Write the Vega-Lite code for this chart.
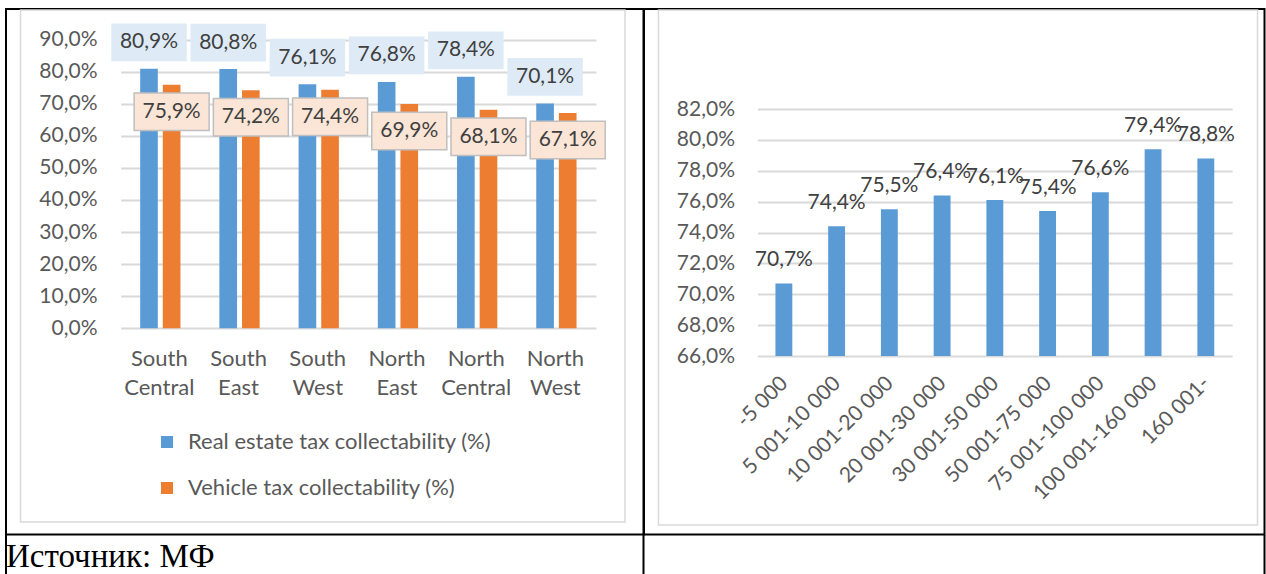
{
  "$schema": "https://vega.github.io/schema/vega-lite/v6.json",
  "padding": {"left": 5, "top": 8, "right": 0, "bottom": 0},
  "background": "white",
  "columns": 2,
  "spacing": 0,
  "bounds": "flush",
  "config": {
    "font": "Lato",
    "locale": {"number": {"decimal": ",", "thousands": " ", "grouping": [3], "currency": ["", ""]}},
    "axis": {"labelFont": "Lato", "labelFontSize": 21, "labelColor": "#595959", "domain": false, "ticks": false, "tickSize": 0, "title": null, "gridColor": "#D9D9D9", "gridWidth": 2},
    "text": {"font": "Lato"}
  },
  "concat": [
    {
      "width": 637.5,
      "height": 525.5,
      "view": {"stroke": "black", "strokeWidth": 2},
      "layer": [
        {
          "data": {"values": [{}]},
          "mark": {"type": "rect", "filled": false, "stroke": "#D9D9D9", "strokeWidth": 1.5},
          "encoding": {
            "x": {"datum": 0, "type": "quantitative", "scale": {"domain": [0, 1], "range": [14.5, 619]}, "axis": null},
            "x2": {"datum": 1},
            "y": {"datum": 0, "type": "quantitative", "scale": {"domain": [0, 1], "range": [1, 513]}, "axis": null},
            "y2": {"datum": 1}
          }
        },
        {
          "data": {"values": [
            {"region": "South Central", "series": "Real estate tax collectability (%)", "value": 0.809},
            {"region": "South Central", "series": "Vehicle tax collectability (%)", "value": 0.759},
            {"region": "South East", "series": "Real estate tax collectability (%)", "value": 0.808},
            {"region": "South East", "series": "Vehicle tax collectability (%)", "value": 0.742},
            {"region": "South West", "series": "Real estate tax collectability (%)", "value": 0.761},
            {"region": "South West", "series": "Vehicle tax collectability (%)", "value": 0.744},
            {"region": "North East", "series": "Real estate tax collectability (%)", "value": 0.768},
            {"region": "North East", "series": "Vehicle tax collectability (%)", "value": 0.699},
            {"region": "North Central", "series": "Real estate tax collectability (%)", "value": 0.784},
            {"region": "North Central", "series": "Vehicle tax collectability (%)", "value": 0.681},
            {"region": "North West", "series": "Real estate tax collectability (%)", "value": 0.701},
            {"region": "North West", "series": "Vehicle tax collectability (%)", "value": 0.671}
          ]},
          "encoding": {
            "x": {
              "field": "region", "type": "nominal", "sort": null,
              "scale": {"range": [114.7, 590], "paddingInner": 0, "paddingOuter": 0},
              "axis": {"labelAngle": 0, "offset": -206.2, "labelPadding": 20, "labelBaseline": "top", "labelLineHeight": 29, "labelFontSize": 22, "labelOffset": -1, "labelExpr": "split(datum.label, ' ')", "grid": false}
            },
            "xOffset": {"field": "series", "type": "nominal", "sort": null, "scale": {"paddingInner": 0.22, "paddingOuter": 0.86}},
            "y": {
              "field": "value", "type": "quantitative",
              "scale": {"domain": [0, 0.9], "range": [319.3, 30.6]},
              "axis": {"values": [0, 0.1, 0.2, 0.3, 0.4, 0.5, 0.6, 0.7, 0.8, 0.9], "format": ".1%", "offset": -91, "labelPadding": 0, "grid": true}
            }
          },
          "layer": [
            {
              "mark": {"type": "bar"},
              "encoding": {
                "color": {
                  "field": "series", "type": "nominal", "sort": null,
                  "scale": {"range": ["#5B9BD5", "#ED7D31"]},
                  "legend": {"orient": "none", "legendX": 150, "legendY": 422, "title": null, "direction": "vertical", "symbolType": "square", "symbolSize": 144, "symbolStrokeWidth": 0, "labelFontSize": 22, "labelColor": "#595959", "labelFont": "Lato", "rowPadding": 24, "labelOffset": 10, "padding": 0, "labelLimit": 0}
                }
              }
            },
            {
              "transform": [{"filter": "datum.series === 'Real estate tax collectability (%)'"}],
              "mark": {"type": "point", "shape": "M-1,-0.5H1V0.5H-1Z", "filled": true, "fill": "#DEEBF7", "opacity": 1, "size": 5700, "yOffset": -26.5}
            },
            {
              "transform": [{"filter": "datum.series === 'Vehicle tax collectability (%)'"}],
              "mark": {"type": "point", "shape": "M-1,-0.5H1V0.5H-1Z", "filled": true, "fill": "#FBE5D6", "stroke": "#BFBFBF", "strokeWidth": 1.5, "opacity": 1, "size": 5625, "yOffset": 27}
            },
            {
              "transform": [{"filter": "datum.series === 'Real estate tax collectability (%)'"}],
              "mark": {"type": "text", "align": "center", "baseline": "middle", "fontSize": 21, "color": "#404040", "dy": -26.5},
              "encoding": {"text": {"field": "value", "type": "quantitative", "format": ".1%"}}
            },
            {
              "transform": [{"filter": "datum.series === 'Vehicle tax collectability (%)'"}],
              "mark": {"type": "text", "align": "center", "baseline": "middle", "fontSize": 21, "color": "#404040", "dy": 27},
              "encoding": {"text": {"field": "value", "type": "quantitative", "format": ".1%"}}
            }
          ]
        }
      ],
      "resolve": {"scale": {"x": "independent", "y": "independent"}}
    },
    {
      "width": 620.5,
      "height": 525.5,
      "view": {"stroke": "black", "strokeWidth": 2},
      "layer": [
        {
          "data": {"values": [{}]},
          "mark": {"type": "rect", "filled": false, "stroke": "#D9D9D9", "strokeWidth": 1.5},
          "encoding": {
            "x": {"datum": 0, "type": "quantitative", "scale": {"domain": [0, 1], "range": [14.5, 613.5]}, "axis": null},
            "x2": {"datum": 1},
            "y": {"datum": 0, "type": "quantitative", "scale": {"domain": [0, 1], "range": [1, 516]}, "axis": null},
            "y2": {"datum": 1}
          }
        },
        {
          "data": {"values": [
            {"bin": "-5 000", "value": 0.707},
            {"bin": "5 001-10 000", "value": 0.744},
            {"bin": "10 001-20 000", "value": 0.755},
            {"bin": "20 001-30 000", "value": 0.764},
            {"bin": "30 001-50 000", "value": 0.761},
            {"bin": "50 001-75 000", "value": 0.754},
            {"bin": "75 001-100 000", "value": 0.766},
            {"bin": "100 001-160 000", "value": 0.794},
            {"bin": "160 001-", "value": 0.788}
          ]},
          "encoding": {
            "x": {
              "field": "bin", "type": "nominal", "sort": null,
              "scale": {"range": [113.5, 588.2], "paddingInner": 0.68, "paddingOuter": 0.34},
              "axis": {"labelAngle": -45, "offset": -178.5, "labelPadding": 16, "labelOffset": -7, "grid": false}
            },
            "y": {
              "field": "value", "type": "quantitative",
              "scale": {"domain": [0.66, 0.82], "range": [347, 100]},
              "axis": {"values": [0.66, 0.68, 0.7, 0.72, 0.74, 0.76, 0.78, 0.8, 0.82], "format": ".1%", "offset": -90.5, "labelPadding": 0, "grid": true}
            }
          },
          "layer": [
            {"mark": {"type": "bar", "color": "#5B9BD5"}, "encoding": {"y2": {"datum": 0.66}}},
            {
              "mark": {"type": "text", "align": "center", "baseline": "middle", "fontSize": 21, "color": "#404040", "dy": -23},
              "encoding": {"text": {"field": "value", "type": "quantitative", "format": ".1%"}}
            }
          ]
        }
      ],
      "resolve": {"scale": {"x": "independent", "y": "independent"}}
    },
    {
      "width": 637.5,
      "height": 39.5,
      "view": {"stroke": null},
      "data": {"values": [{"note": "Источник: МФ"}]},
      "layer": [
        {
          "mark": {"type": "text", "align": "left", "baseline": "middle", "font": "Liberation Serif", "fontSize": 33, "color": "black", "dx": 0, "dy": 2},
          "encoding": {
            "text": {"field": "note", "type": "nominal"},
            "x": {"datum": 0, "type": "quantitative", "scale": {"domain": [0, 1]}, "axis": null}
          }
        },
        {
          "mark": {"type": "rule", "color": "black", "strokeWidth": 2},
          "encoding": {"x": {"datum": 0, "type": "quantitative"}}
        },
        {
          "mark": {"type": "rule", "color": "black", "strokeWidth": 2},
          "encoding": {"x": {"datum": 1, "type": "quantitative"}}
        }
      ]
    },
    {
      "width": 620.5,
      "height": 39.5,
      "view": {"stroke": null},
      "data": {"values": [{}]},
      "mark": {"type": "rule", "color": "black", "strokeWidth": 2},
      "encoding": {"x": {"datum": 1, "type": "quantitative", "scale": {"domain": [0, 1]}, "axis": null}}
    }
  ]
}
